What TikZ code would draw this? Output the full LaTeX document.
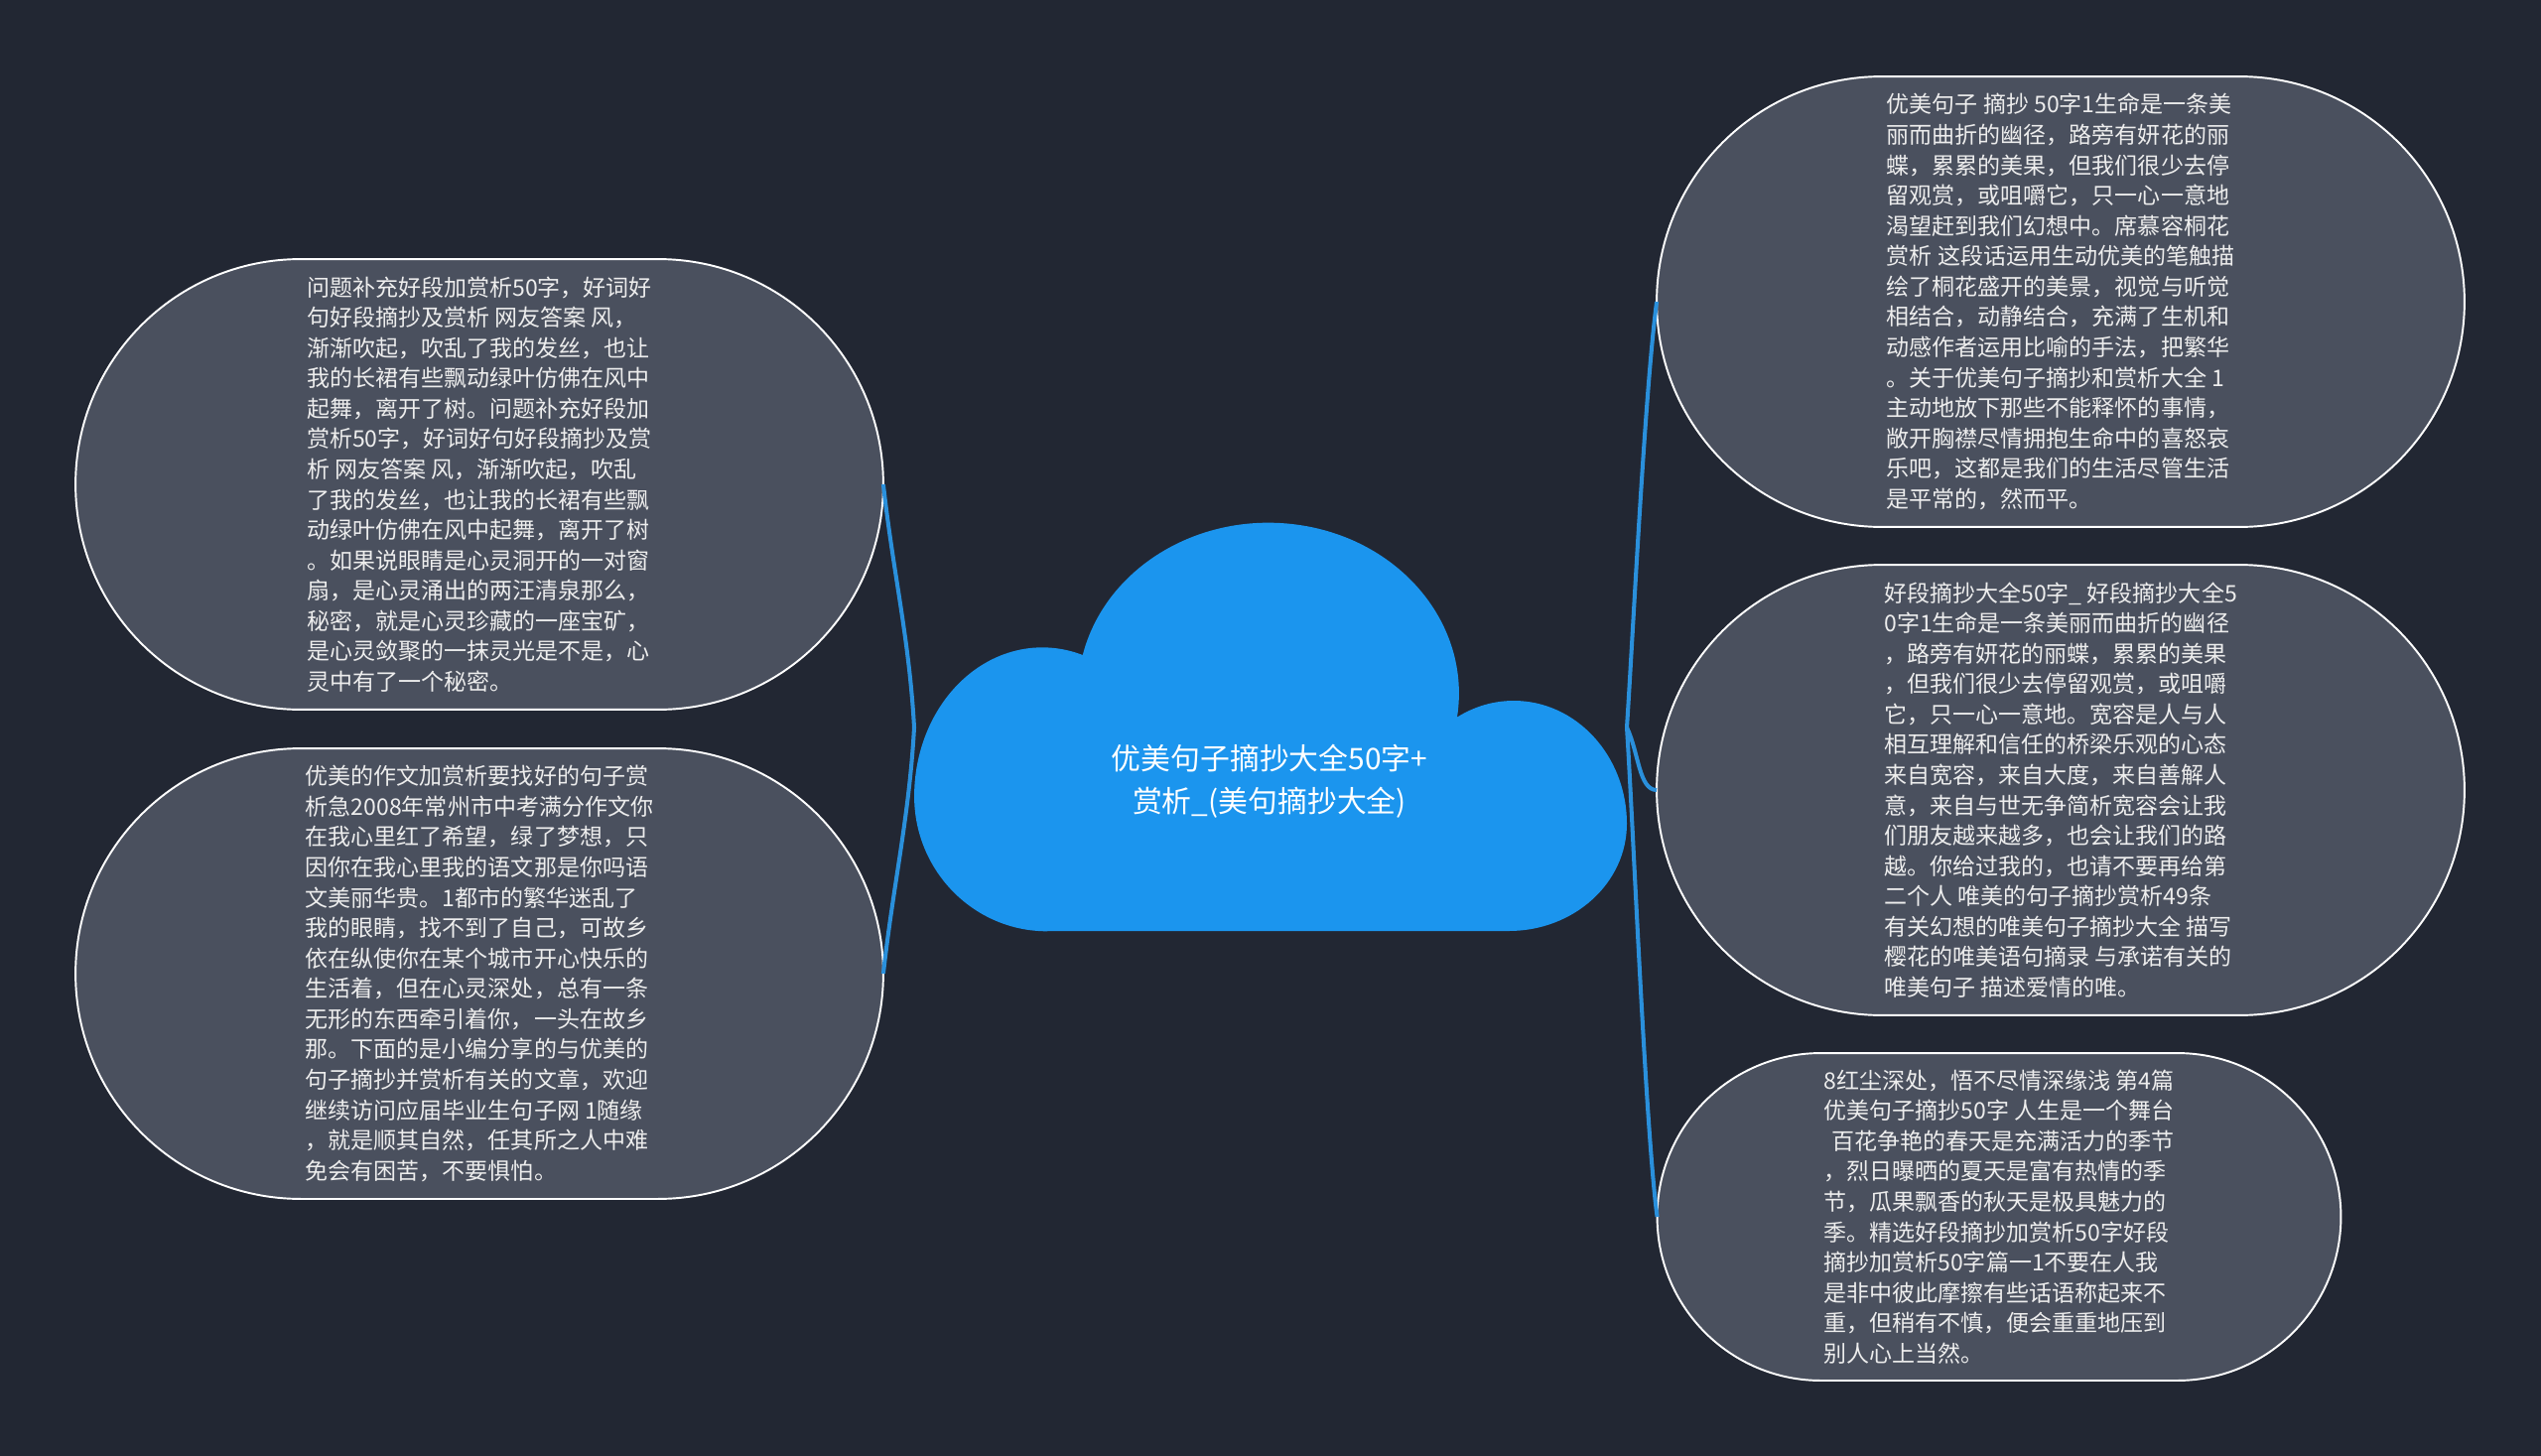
\documentclass[tikz,border=0pt]{standalone}
\usepackage{fontspec}
\setmainfont{Noto Sans CJK SC}
\usetikzlibrary{shapes.misc}
\definecolor{bgcol}{HTML}{222733}
\definecolor{bubblecol}{HTML}{4A505E}
\definecolor{cloudcol}{HTML}{1B95EE}
\definecolor{linkcol}{HTML}{2A90DC}
\tikzset{
  bubble/.style={rounded rectangle, draw=white, line width=1.1pt, fill=bubblecol,
    text=white!93!black, align=left, inner sep=0pt, outer sep=0pt,
    font=\fontsize{13.1}{17.4}\selectfont},
  bigbubble/.style={bubble, minimum width=16.28cm, minimum height=9.08cm},
  link/.style={draw=linkcol, line width=2.3pt},
}

\begin{document}
\begin{tikzpicture}[x=0.02cm, y=0.02cm]
		%%%%% START %%%%%
		
		\fill[bgcol] (0,0) rectangle (2560,-1467);
		\useasboundingbox (0,0) rectangle (2560,-1467);
		
		% cloud
		\fill[cloudcol] (1055,-938) -- (1520,-938)
			arc (-90:0:119 and 108)
			arc (0:120:114 and 124)
			arc (-8:167:192 and 172)
			arc (71.6:180:129 and 150)
			arc (180:270:134 and 136) -- cycle;
		\node[text=white, align=center, font=\fontsize{17}{24.5}\selectfont] (root) at (1279,-787)
			{优美句子摘抄大全50字+\\赏析\_(美句摘抄大全)};
		\coordinate (cl) at (921,-733);
		\coordinate (cr) at (1639,-733);
		
		% left
		\node[bigbubble] (lt) at (483,-488) {问题补充好段加赏析50字，好词好\\
句好段摘抄及赏析 网友答案 风，\\
渐渐吹起，吹乱了我的发丝，也让\\
我的长裙有些飘动绿叶仿佛在风中\\
起舞，离开了树。问题补充好段加\\
赏析50字，好词好句好段摘抄及赏\\
析 网友答案 风，渐渐吹起，吹乱\\
了我的发丝，也让我的长裙有些飘\\
动绿叶仿佛在风中起舞，离开了树\\
。如果说眼睛是心灵洞开的一对窗\\
扇，是心灵涌出的两汪清泉那么，\\
秘密，就是心灵珍藏的一座宝矿，\\
是心灵敛聚的一抹灵光是不是，心\\
灵中有了一个秘密。};
		
		\node[bigbubble] (lb) at (483,-981) {优美的作文加赏析要找好的句子赏\\
析急2008年常州市中考满分作文你\\
在我心里红了希望，绿了梦想，只\\
因你在我心里我的语文那是你吗语\\
文美丽华贵。1都市的繁华迷乱了\\
我的眼睛，找不到了自己，可故乡\\
依在纵使你在某个城市开心快乐的\\
生活着，但在心灵深处，总有一条\\
无形的东西牵引着你，一头在故乡\\
那。下面的是小编分享的与优美的\\
句子摘抄并赏析有关的文章，欢迎\\
继续访问应届毕业生句子网 1随缘\\
，就是顺其自然，任其所之人中难\\
免会有困苦，不要惧怕。};
		
		% right
		\node[bigbubble] (rt) at (2076,-304) {优美句子 摘抄 50字1生命是一条美\\
丽而曲折的幽径，路旁有妍花的丽\\
蝶，累累的美果，但我们很少去停\\
留观赏，或咀嚼它，只一心一意地\\
渴望赶到我们幻想中。席慕容桐花\\
赏析 这段话运用生动优美的笔触描\\
绘了桐花盛开的美景，视觉与听觉\\
相结合，动静结合，充满了生机和\\
动感作者运用比喻的手法，把繁华\\
。关于优美句子摘抄和赏析大全 1\\
主动地放下那些不能释怀的事情，\\
敞开胸襟尽情拥抱生命中的喜怒哀\\
乐吧，这都是我们的生活尽管生活\\
是平常的，然而平。};
		
		\node[bigbubble] (rm) at (2076,-796) {好段摘抄大全50字\_ 好段摘抄大全5\\
0字1生命是一条美丽而曲折的幽径\\
，路旁有妍花的丽蝶，累累的美果\\
，但我们很少去停留观赏，或咀嚼\\
它，只一心一意地。宽容是人与人\\
相互理解和信任的桥梁乐观的心态\\
来自宽容，来自大度，来自善解人\\
意，来自与世无争简析宽容会让我\\
们朋友越来越多，也会让我们的路\\
越。你给过我的，也请不要再给第\\
二个人 唯美的句子摘抄赏析49条\\
有关幻想的唯美句子摘抄大全 描写\\
樱花的唯美语句摘录 与承诺有关的\\
唯美句子 描述爱情的唯。};
		
		\node[bubble, minimum width=13.78cm, minimum height=6.6cm] (rb) at (2014,-1226) {8红尘深处，悟不尽情深缘浅 第4篇\\
优美句子摘抄50字 人生是一个舞台\\
\hspace{0.35em}百花争艳的春天是充满活力的季节\\
，烈日曝晒的夏天是富有热情的季\\
节，瓜果飘香的秋天是极具魅力的\\
季。精选好段摘抄加赏析50字好段\\
摘抄加赏析50字篇一1不要在人我\\
是非中彼此摩擦有些话语称起来不\\
重，但稍有不慎，便会重重地压到\\
别人心上当然。};
		
		% links
		\draw[link] (cl) .. controls +(-5,90) and +(10,-90) .. (lt.east);
		\draw[link] (cl) .. controls +(-5,-90) and +(10,90) .. (lb.east);
		\draw[link] (cr) .. controls +(6,90) and +(-12,-90) .. (rt.west);
		\draw[link] (cr) .. controls +(12,-25) and +(-18,0) .. (rm.west);
		\draw[link] (cr) .. controls +(6,-90) and +(-12,90) .. (rb.west);
		
		%%%%% END %%%%%
	\end{tikzpicture}
\end{document}
